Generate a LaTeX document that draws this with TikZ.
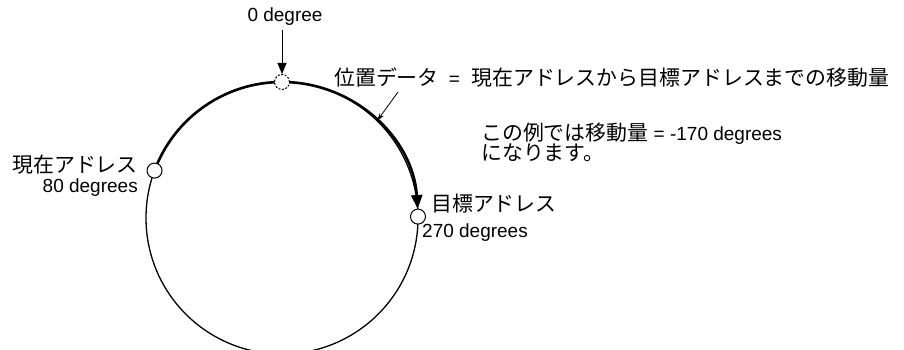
\documentclass[tikz,border=0pt]{standalone}
\usepackage{fontspec}
\setmainfont{Liberation Sans}
\newfontfamily\jp[Scale=1.1]{Noto Sans CJK JP}
\usetikzlibrary{arrows.meta}

\tikzset{
  lbl/.style={inner sep=0pt,font=\fontsize{19}{19}\selectfont},
  addr/.style={circle,draw,fill=white,minimum size=15pt,inner sep=0pt,line width=1pt},
  thinarc/.style={line width=1.3pt},
  thickarc/.style={line width=2.6pt},
}

\begin{document}
\begin{tikzpicture}[x=1pt,y=1pt]
  \useasboundingbox (0,0) rectangle (904,350);
  \coordinate (c) at (282,132);
  % Circle of addresses
  \draw[thinarc] (c) circle (136);
  \draw[thickarc] (c) ++(159.6:136) arc[start angle=159.6,end angle=90,radius=136];
  \draw[thickarc,-{Triangle[length=14pt,width=11pt]}] (c) ++(90:136)
    arc[start angle=90,end angle=3.8,radius=136];
  \path (c) ++(45.6:136) coordinate (mid);
  % Address points
  \path (c) ++(90:136) node[addr,dashed,dash pattern=on 2pt off 1.5pt] (zero) {};
  \path (c) ++(159.6:136) node[addr] (cur) {};
  \path (c) ++(0.6:136) node[addr] (tgt) {};
  % Labels
  \node[lbl] (lbl0) at (285,333) {0 degree};
  \draw[line width=0.9pt,-{Triangle[length=11pt,width=9pt]}]
    (zero |- lbl0.south) ++(0,-4) -- (zero.north);
  \node[lbl,anchor=west] (pos) at (334,272)
    {{\jp 位置データ}\hspace{5pt} = \hspace{6pt}{\jp 現在アドレスから目標アドレスまでの移動量}};
  \draw[line width=0.8pt,-{Stealth[length=8pt,width=5pt]}]
    (pos.south west) ++(64,-4) -- (mid);
  \node[lbl,anchor=east] (curname) at (138,185) {\jp 現在アドレス};
  \node[lbl,anchor=east] (curdeg) at (138,162) {80 degrees};
  \node[lbl,anchor=west] (tgtname) at (431,146) {\jp 目標アドレス};
  \node[lbl,anchor=west] (tgtdeg) at (422,117) {270 degrees};
  \node[lbl,anchor=north west,align=left] (note) at (481,227)
    {{\jp この例では移動量} = -170 degrees\\[-2pt]{\jp になります。}};
\end{tikzpicture}
\end{document}
